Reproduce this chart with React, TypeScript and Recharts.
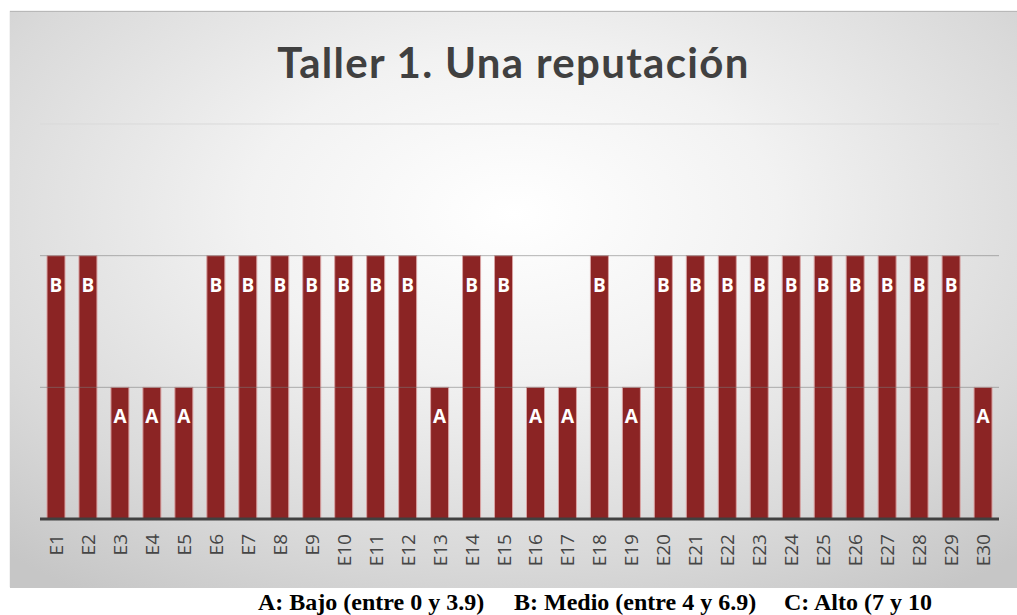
import React from "react";
import {
  BarChart,
  Bar,
  XAxis,
  YAxis,
  ReferenceLine,
  LabelList,
} from "recharts";

// estudiantes y nivel obtenido (1 = A, 2 = B)
const estudiantes = [
  "E1", "E2", "E3", "E4", "E5", "E6", "E7", "E8", "E9", "E10",
  "E11", "E12", "E13", "E14", "E15", "E16", "E17", "E18", "E19", "E20",
  "E21", "E22", "E23", "E24", "E25", "E26", "E27", "E28", "E29", "E30",
];
const niveles = [
  2, 2, 1, 1, 1, 2, 2, 2, 2, 2,
  2, 2, 1, 2, 2, 1, 1, 2, 1, 2,
  2, 2, 2, 2, 2, 2, 2, 2, 2, 1,
];
const letras = ["", "A", "B", "C"];
const gridValues = [1, 2, 3];

const data = estudiantes.map((name, i) => ({
  name,
  nivel: niveles[i],
  letra: letras[niveles[i]],
}));

const FONT = "'Open Sans', sans-serif";

const TickRotado = (props: any) => {
  const { x, y, payload } = props;
  const ty = y + 15;
  return (
    <text
      x={x}
      y={ty}
      transform={`rotate(-90, ${x}, ${ty})`}
      textAnchor="end"
      dominantBaseline="central"
      fontFamily={FONT}
      fontSize={19}
      fill="#454545"
    >
      {payload.value}
    </text>
  );
};

const EtiquetaBarra = (props: any) => {
  const { x, y, width, value } = props;
  return (
    <text
      x={x + width / 2}
      y={y + 29}
      textAnchor="middle"
      dominantBaseline="central"
      fontFamily={FONT}
      fontSize={19}
      fontWeight="bold"
      fill="#ffffff"
    >
      {value}
    </text>
  );
};

export default function App() {
  return (
    <div
      style={{
        position: "absolute",
        left: 0,
        top: 0,
        width: 1017,
        height: 615,
        background: "#ffffff",
        overflow: "hidden",
      }}
    >
      <div
        style={{
          position: "absolute",
          left: 10,
          top: 12,
          width: 1007,
          height: 576,
          background:
            "radial-gradient(ellipse 75% 80% at 50% 35%, #ffffff 0%, #f2f2f2 35%, #d9d9d9 75%, #c6c6c6 100%)",
          boxShadow: "0 -1px 1px #b8b8b8",
        }}
      >
        <div
          style={{
            position: "absolute",
            left: 0,
            top: 27,
            width: 1007,
            textAlign: "center",
            fontFamily: "Lato, sans-serif",
            fontWeight: "bold",
            fontSize: 42,
            letterSpacing: 1.3,
            color: "#404040",
            lineHeight: "46px",
          }}
        >
          Taller 1. Una reputación
        </div>
        <BarChart
          width={1007}
          height={576}
          data={data}
          margin={{ top: 112, right: 18, left: 30, bottom: 9 }}
          style={{ position: "absolute", left: 0, top: 0 }}
        >
          <XAxis
            dataKey="name"
            height={60}
            interval={0}
            tickLine={false}
            tickSize={0}
            tickMargin={0}
            axisLine={{ stroke: "#404040", strokeWidth: 3 }}
            tick={<TickRotado />}
          />
          <YAxis hide type="number" domain={[0, 3]} ticks={gridValues} />
          <ReferenceLine y={3} stroke="#d9d9d9" strokeWidth={1} />
          <Bar
            dataKey="nivel"
            barSize={18}
            fill="#8b2424"
            stroke="#d9a3a3"
            strokeWidth={1}
            isAnimationActive={false}
          >
            <LabelList dataKey="letra" content={<EtiquetaBarra />} />
          </Bar>
          {gridValues.slice(0, 2).map((v) => (
            <ReferenceLine
              key={v}
              y={v}
              stroke="#7a7a7a"
              strokeOpacity={0.55}
              strokeWidth={1}
            />
          ))}
        </BarChart>
      </div>
      {[
        { left: 258, text: "A: Bajo (entre 0 y 3.9)" },
        { left: 514, text: "B: Medio (entre 4 y 6.9)" },
        { left: 784, text: "C: Alto (7 y 10" },
      ].map((t) => (
        <div
          key={t.left}
          style={{
            position: "absolute",
            left: t.left,
            top: 589,
            fontFamily: "'Liberation Serif', 'Times New Roman', serif",
            fontWeight: "bold",
            fontSize: 24,
            lineHeight: "26px",
            color: "#000000",
            whiteSpace: "pre",
          }}
        >
          {t.text}
        </div>
      ))}
    </div>
  );
}
